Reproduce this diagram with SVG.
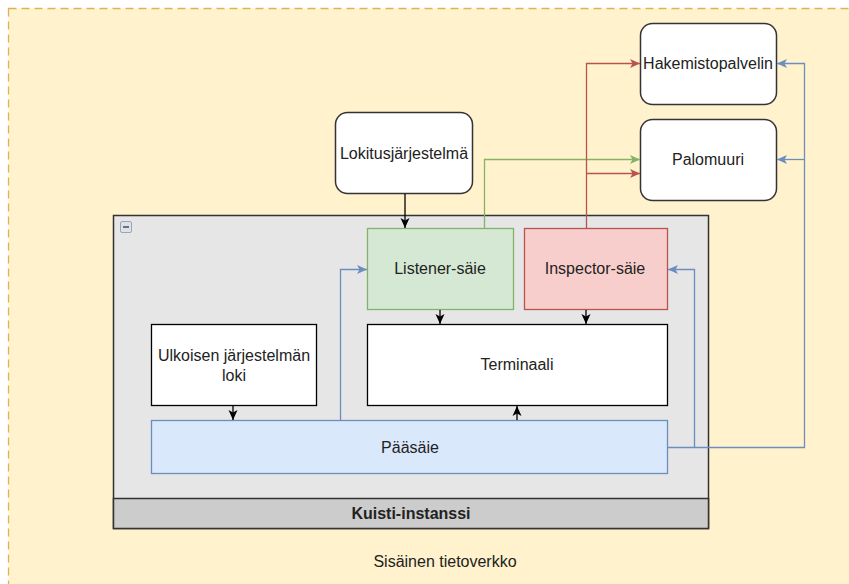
<svg xmlns="http://www.w3.org/2000/svg" width="849" height="584" viewBox="0 0 849 584">
  <style>
    text { font-family: "Liberation Sans", Arial, sans-serif; font-size: 16px; fill: #222; text-anchor: middle; dominant-baseline: central; }
    .node { fill: #ffffff; stroke: #333333; stroke-width: 1.5; }
    .edge { fill: none; stroke-width: 1.3; }
    .black { stroke: #000000; }
    .green { stroke: #82b366; }
    .red { stroke: #b85450; }
    .blue { stroke: #6c8ebf; }
  </style>
  <defs>
    <marker id="arrow-black" markerUnits="userSpaceOnUse" markerWidth="12" markerHeight="12" refX="11" refY="6" orient="auto">
      <path d="M1,1.5 L11,6 L1,10.5 L3.5,6 z" fill="#000000"/>
    </marker>
    <marker id="arrow-green" markerUnits="userSpaceOnUse" markerWidth="12" markerHeight="12" refX="11" refY="6" orient="auto">
      <path d="M1,1.5 L11,6 L1,10.5 L3.5,6 z" fill="#82b366"/>
    </marker>
    <marker id="arrow-red" markerUnits="userSpaceOnUse" markerWidth="12" markerHeight="12" refX="11" refY="6" orient="auto">
      <path d="M1,1.5 L11,6 L1,10.5 L3.5,6 z" fill="#b85450"/>
    </marker>
    <marker id="arrow-blue" markerUnits="userSpaceOnUse" markerWidth="12" markerHeight="12" refX="11" refY="6" orient="auto">
      <path d="M1,1.5 L11,6 L1,10.5 L3.5,6 z" fill="#6c8ebf"/>
    </marker>
  </defs>

  <rect width="849" height="584" fill="#ffffff"/>

  <!-- internal network zone -->
  <g id="sisainen-tietoverkko">
    <rect x="8.5" y="8.5" width="860" height="600" fill="#fff2cc" stroke="#d6b656" stroke-width="1.3" stroke-dasharray="8 5"/>
    <text x="445" y="561">Sisäinen tietoverkko</text>
  </g>

  <!-- Kuisti instance container -->
  <g id="kuisti-instanssi">
    <rect x="113.5" y="215.5" width="595" height="313" fill="#e6e6e6" stroke="#333333" stroke-width="1.5"/>
    <rect x="113.5" y="498.5" width="595" height="30" fill="#cccccc" stroke="#333333" stroke-width="1.5"/>
    <text x="411" y="513" font-weight="bold">Kuisti-instanssi</text>
    <rect x="120.5" y="221.5" width="11" height="11" rx="1.5" fill="#dde2ea" stroke="#9aa6b8" stroke-width="1"/>
    <line x1="123" y1="227" x2="129" y2="227" stroke="#555555" stroke-width="1.6"/>
  </g>

  <g id="hakemistopalvelin">
    <rect class="node" x="640.5" y="23.5" width="136" height="81" rx="12"/>
    <text x="708" y="63">Hakemistopalvelin</text>
  </g>

  <g id="palomuuri">
    <rect class="node" x="640.5" y="119.5" width="136" height="81" rx="12"/>
    <text x="708" y="159">Palomuuri</text>
  </g>

  <g id="lokitusjarjestelma">
    <rect class="node" x="335.5" y="112.5" width="137" height="81" rx="12"/>
    <text x="404" y="153">Lokitusjärjestelmä</text>
  </g>

  <g id="listener-saie">
    <rect x="367.5" y="228.5" width="146" height="81" fill="#d5e8d4" stroke="#82b366" stroke-width="1.3"/>
    <text x="440" y="268">Listener-säie</text>
  </g>

  <g id="inspector-saie">
    <rect x="524.5" y="228.5" width="143" height="81" fill="#f8cecc" stroke="#b85450" stroke-width="1.3"/>
    <text x="595" y="268">Inspector-säie</text>
  </g>

  <g id="terminaali">
    <rect x="367.5" y="324.5" width="300" height="81" fill="#ffffff" stroke="#000000" stroke-width="1.3"/>
    <text x="517" y="364">Terminaali</text>
  </g>

  <g id="ulkoisen-jarjestelman-loki">
    <rect x="151.5" y="324.5" width="165" height="81" fill="#ffffff" stroke="#000000" stroke-width="1.3"/>
    <text x="234" y="355">Ulkoisen järjestelmän</text>
    <text x="234" y="375">loki</text>
  </g>

  <g id="paasaie">
    <rect x="151.5" y="420.5" width="516" height="53" fill="#dae8fc" stroke="#6c8ebf" stroke-width="1.3"/>
    <text x="410" y="447">Pääsäie</text>
  </g>

  <!-- connectors -->
  <g id="connectors">
    <path class="edge black" d="M405,194 L405,228" marker-end="url(#arrow-black)"/>
    <path class="edge black" d="M440,310 L440,324" marker-end="url(#arrow-black)"/>
    <path class="edge black" d="M586,310 L586,324" marker-end="url(#arrow-black)"/>
    <path class="edge black" d="M233,406 L233,420" marker-end="url(#arrow-black)"/>
    <path class="edge black" d="M517,420 L517,406" marker-end="url(#arrow-black)"/>

    <path class="edge green" d="M484.5,228 L484.5,159.5 L640,159.5" marker-end="url(#arrow-green)"/>

    <path class="edge red" d="M586.5,228 L586.5,63.5 L640,63.5" marker-end="url(#arrow-red)"/>
    <path class="edge red" d="M586.5,173.5 L640,173.5" marker-end="url(#arrow-red)"/>

    <path class="edge blue" d="M668,447.5 L804.5,447.5 L804.5,63.5 L777,63.5" marker-end="url(#arrow-blue)"/>
    <path class="edge blue" d="M804.5,159.5 L777,159.5" marker-end="url(#arrow-blue)"/>
    <path class="edge blue" d="M694.5,447.5 L694.5,269.5 L668,269.5" marker-end="url(#arrow-blue)"/>
    <path class="edge blue" d="M340.5,420 L340.5,269.5 L367,269.5" marker-end="url(#arrow-blue)"/>
  </g>
</svg>
